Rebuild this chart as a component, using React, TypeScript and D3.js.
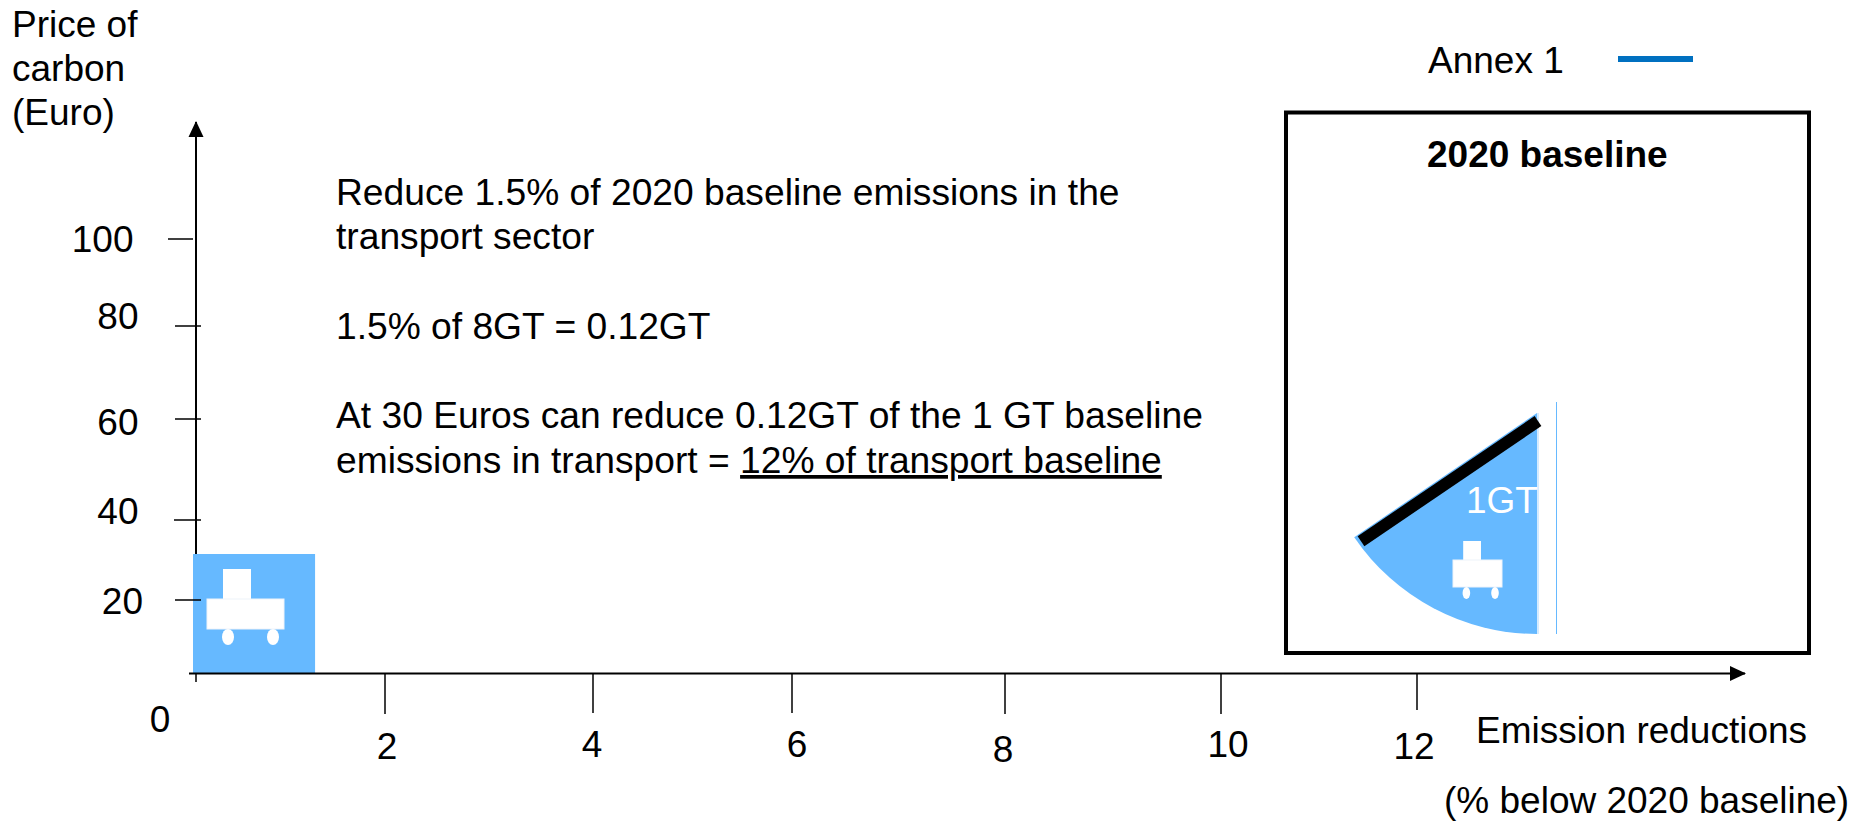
import React from 'react';
import * as d3 from 'd3';

// values
const xTicks = [0, 2, 4, 6, 8, 10, 12];
const yTicks = [20, 40, 60, 80, 100];
const transportBar = { reduction: 1.26, price: 31.5 };
const transportShare = 0.155; // 1GT wedge of the baseline pie

const introLines = [
  'Reduce 1.5% of 2020 baseline emissions in the',
  'transport sector',
];
const sumLine = '1.5% of 8GT = 0.12GT';
const resultLine = 'At 30 Euros can reduce 0.12GT of the 1 GT baseline';

// the axis was drawn by hand, so tick spacing is uneven
const xScale = d3.scaleLinear().domain(xTicks).range([196, 385, 593, 792, 1005, 1221, 1417]);
const yScale = d3.scaleLinear().domain([0, ...yTicks]).range([673, 600, 520, 419, 326, 239]);

const BLUE = '#66b9ff';
const FONT = '"Liberation Sans", Arial, sans-serif';

function Cart({ x, y, w, roof, body, wheel }: { x: number; y: number; w: number; roof: number; body: number; wheel: number }) {
  const k = w / 77;
  return (
    <g transform={`translate(${x},${y})`} fill="#fff">
      <rect x={16 * k} y={0} width={28 * k} height={roof + 1} />
      <rect x={0} y={roof} width={w} height={body} stroke="#eef3fa" strokeWidth={1} />
      <ellipse cx={21 * k} cy={roof + body + wheel / 2} rx={6 * k} ry={wheel / 2} />
      <ellipse cx={66 * k} cy={roof + body + wheel / 2} rx={6 * k} ry={wheel / 2} />
    </g>
  );
}

function Wedge() {
  const cx = 1537;
  const cy = 413;
  const pie = d3.pie<number>().sort(null).startAngle(Math.PI).endAngle(3 * Math.PI);
  const arcs = pie([transportShare, 1 - transportShare]);
  const arc = d3.arc<d3.PieArcDatum<number>>().innerRadius(0).outerRadius(221);
  const a = arcs[0].endAngle;
  const edge = d3.line()([
    [Math.sin(a) * 214 + 1, -Math.cos(a) * 214 + 8],
    [1, 8],
  ]);
  return (
    <g transform={`translate(${cx},${cy})`}>
      <path d={arc(arcs[0]) || ''} fill={BLUE} />
      <line x1={1} x2={1} y1={0} y2={221} stroke="#d5ebff" strokeWidth={2} />
      <path d={edge || ''} stroke="#000" strokeWidth={12} fill="none" />
      <line x1={19.5} x2={19.5} y1={-11} y2={221} stroke={BLUE} strokeWidth={1} />
    </g>
  );
}

export default function App() {
  const textProps = { fontFamily: FONT, fontSize: 37, fill: '#000' };
  const noteProps = { ...textProps, fontSize: 37.2 };
  const xLabelY = [732, 759, 757, 757, 762, 757, 759];
  const xLabelX = [160, 387, 592, 797, 1003, 1228, 1414];
  const xTickEnd = [682, 714, 713, 713, 714, 714, 710];
  const yLabelX = [143, 138.5, 138.5, 138.5, 133.5];
  const yLabelY = [614, 524, 435, 329, 252];
  const tickL = [175, 174, 175, 175, 168];

  return (
    <svg
      width={1856}
      height={822}
      style={{ position: 'absolute', left: 0, top: 0, background: '#fff' }}
    >
      <defs>
        <marker id="arrow" markerWidth={16} markerHeight={16} refX={15} refY={8} orient="auto" markerUnits="userSpaceOnUse">
          <path d="M0,0.5L16,8L0,15.5Z" fill="#000" />
        </marker>
      </defs>

      {/* y axis sits behind the transport bar */}
      <line x1={196} x2={196} y1={673} y2={122} stroke="#000" strokeWidth={2} markerEnd="url(#arrow)" />

      <rect
        x={xScale(0) - 3}
        y={yScale(transportBar.price)}
        width={xScale(transportBar.reduction) - xScale(0) + 3}
        height={yScale(0) - yScale(transportBar.price)}
        fill={BLUE}
      />
      <Cart x={207} y={569} w={77} roof={30} body={30} wheel={16} />

      <line x1={189} x2={1745} y1={673.5} y2={673.5} stroke="#000" strokeWidth={2} markerEnd="url(#arrow)" />

      {xTicks.map((t, i) => (
        <g key={t}>
          <line x1={xScale(t)} x2={xScale(t)} y1={673} y2={xTickEnd[i]} stroke="#000" strokeWidth={1.5} />
          <text {...textProps} x={xLabelX[i]} y={xLabelY[i]} textAnchor="middle">
            {t}
          </text>
        </g>
      ))}
      {yTicks.map((t, i) => (
        <g key={t}>
          <line x1={tickL[i]} x2={t === 100 ? 193 : 201} y1={yScale(t)} y2={yScale(t)} stroke="#000" strokeWidth={1.5} />
          <text {...textProps} x={yLabelX[i]} y={yLabelY[i]} textAnchor="end">
            {t}
          </text>
        </g>
      ))}

      {/* axis titles */}
      <text {...textProps} x={12} y={37}>Price of</text>
      <text {...textProps} x={12} y={81}>carbon</text>
      <text {...textProps} x={12} y={125}>(Euro)</text>
      <text {...textProps} x={1476} y={743}>Emission reductions</text>
      <text {...textProps} x={1444} y={813}>(% below 2020 baseline)</text>

      {/* annotation */}
      {introLines.map((l, i) => (
        <text key={l} {...noteProps} x={336} y={205 + i * 44}>{l}</text>
      ))}
      <text {...noteProps} x={336} y={339}>{sumLine}</text>
      <text {...noteProps} x={336} y={428}>{resultLine}</text>
      <text {...noteProps} x={336} y={473}>
        {'emissions in transport = '}
        <tspan textDecoration="underline">12% of transport baseline</tspan>
      </text>

      {/* legend */}
      <text {...textProps} x={1428} y={73}>Annex 1</text>
      <line x1={1618} x2={1693} y1={59} y2={59} stroke="#0070c0" strokeWidth={6} />

      {/* inset box */}
      <rect x={1286} y={112.5} width={523} height={540.5} fill="none" stroke="#000" strokeWidth={4} />
      <text {...textProps} fontWeight="bold" x={1427} y={167}>2020 baseline</text>
      <Wedge />
      <text {...textProps} fill="#fff" x={1466} y={513}>1GT</text>
      <Cart x={1453} y={541} w={49} roof={19} body={27} wheel={12} />
    </svg>
  );
}
